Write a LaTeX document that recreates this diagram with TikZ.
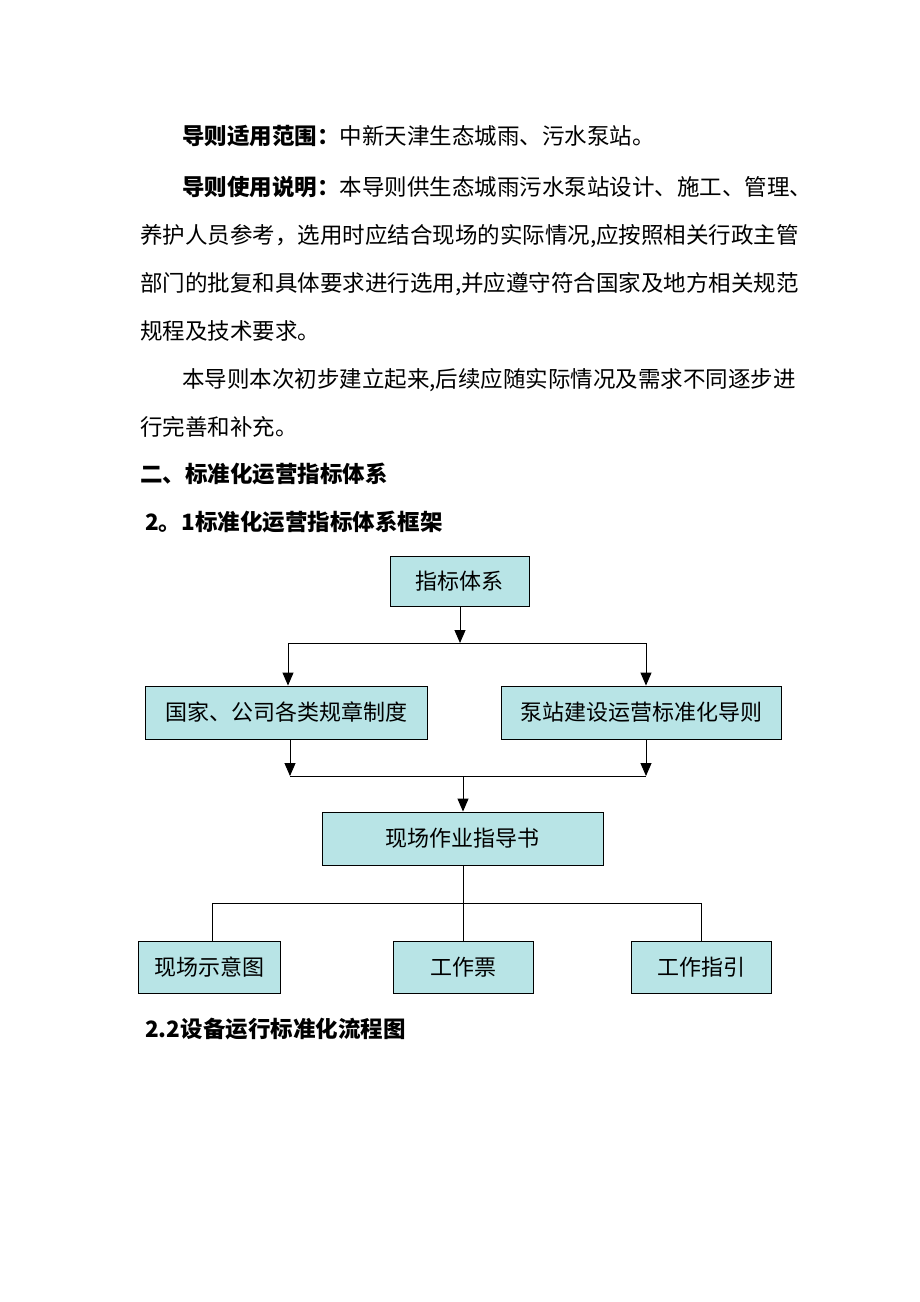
\documentclass[tikz,border=0pt]{standalone}
\usepackage{fontspec}
\setmainfont{Noto Sans CJK SC}
\usetikzlibrary{arrows.meta}
\definecolor{boxfill}{RGB}{184,228,230}
\def\spreadtxt#1{#1\spreadtxtA}
\def\spreadtxtA#1{\ifx#1\relax\else\hfil#1\expandafter\spreadtxtA\fi}
\tikzset{
  box/.style={draw=black, fill=boxfill, line width=0.9pt, inner sep=0pt,
    font=\fontsize{22}{26}\selectfont},
  body/.style={anchor=base west, inner sep=0pt, font=\fontsize{22.5}{27}\selectfont},
  head/.style={anchor=base west, inner sep=0pt, font=\fontsize{22.5}{27}\selectfont\bfseries},
  conn/.style={line width=1pt},
  arr/.style={conn, -{Triangle[length=13pt,width=11pt]}}
}
\begin{document}
\begin{tikzpicture}[x=1pt,y=-1pt]
\useasboundingbox[fill=white] (0,0) rectangle (920,1302);
% text lines
\node[body] (l1) at (182,144) {{\bfseries 导则适用范围：}中新天津生态城雨、污水泵站。};
\node[body] (l2) at (182,195) {\hbox to 606pt{{\bfseries\spreadtxt 导则使用说明：\relax}\hfil\spreadtxt 本导则供生态城雨污水泵站设计、施工、管理、\relax}};
\node[body] (l3) at (140,243) {\hbox to 648pt{\spreadtxt 养护人员参考，选用时应结合现场的实际情况,应按照相关行政主管\relax}};
\node[body] (l4) at (140,291) {\hbox to 648pt{\spreadtxt 部门的批复和具体要求进行选用,并应遵守符合国家及地方相关规范\relax}};
\node[body] (l5) at (140,339) {规程及技术要求。};
\node[body] (l6) at (182,387) {\hbox to 606pt{\spreadtxt 本导则本次初步建立起来,后续应随实际情况及需求不同逐步进\relax}};
\node[body] (l7) at (140,435) {行完善和补充。};
\node[head] (h1) at (140,482) {二、标准化运营指标体系};
\node[head] (h2) at (145,530) {2。1标准化运营指标体系框架};
\node[head] (h3) at (145,1037) {2.2设备运行标准化流程图};
% boxes
\node[box, minimum width=139pt, minimum height=50pt] (A) at (459.5,581) {指标体系};
\node[box, minimum width=282pt, minimum height=53pt] (B) at (286,712.5) {国家、公司各类规章制度};
\node[box, minimum width=280pt, minimum height=53pt] (C) at (641,712.5) {泵站建设运营标准化导则};
\node[box, minimum width=281pt, minimum height=53pt] (D) at (462.5,838.5) {现场作业指导书};
\node[box, minimum width=142pt, minimum height=52pt] (E) at (209,967) {现场示意图};
\node[box, minimum width=140pt, minimum height=52pt] (F) at (463,967) {工作票};
\node[box, minimum width=140pt, minimum height=52pt] (G) at (701,967) {工作指引};
% junctions
\coordinate (j1c) at (460,643);
\coordinate (j1l) at (288,643);
\coordinate (j1r) at (646,643);
\coordinate (j2l) at (290,776);
\coordinate (j2r) at (646,776);
\coordinate (j2c) at (463,776);
\coordinate (j3l) at (212,903);
\coordinate (j3r) at (701,903);
% connectors
\draw[arr] (A.south -| j1c) -- (j1c);
\draw[conn] (j1l) -- (j1r);
\draw[arr] (j1l) -- (j1l |- B.north);
\draw[arr] (j1r) -- (j1r |- C.north);
\draw[arr] (j2l |- B.south) -- (j2l);
\draw[arr] (j2r |- C.south) -- (j2r);
\draw[conn] (j2l) -- (j2r);
\draw[arr] (j2c) -- (j2c |- D.north);
\draw[conn] (D.south -| F.north) -- (F.north);
\draw[conn] (j3l) -- (j3r);
\draw[conn] (j3l) -- (j3l |- E.north);
\draw[conn] (j3r) -- (j3r |- G.north);
\end{tikzpicture}
\end{document}
